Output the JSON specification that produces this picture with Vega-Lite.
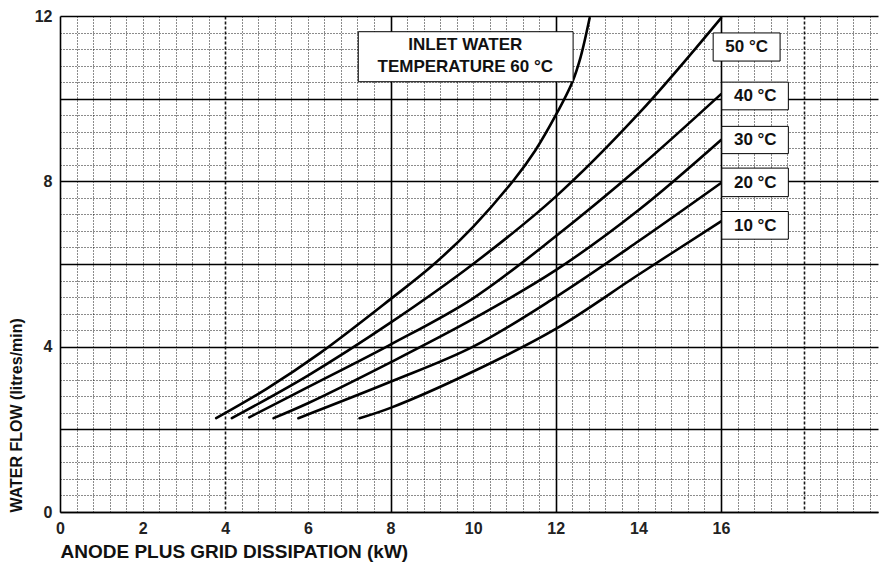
{
  "$schema": "https://vega.github.io/schema/vega-lite/v6.json",
  "width": 818,
  "height": 496,
  "autosize": {"type": "none"},
  "padding": {"left": 60, "top": 16, "right": 3, "bottom": 57},
  "background": "white",
  "config": {"font": "Liberation Sans", "view": {"stroke": null}},
  "datasets": {
    "curves": [
      {"series": "60", "x": 3.78, "y": 2.27}, {"series": "60", "x": 5, "y": 2.98}, {"series": "60", "x": 6.3, "y": 3.85}, {"series": "60", "x": 8, "y": 5.15}, {"series": "60", "x": 9, "y": 5.95}, {"series": "60", "x": 10, "y": 6.9}, {"series": "60", "x": 11, "y": 8.05}, {"series": "60", "x": 11.5, "y": 8.74}, {"series": "60", "x": 12, "y": 9.6}, {"series": "60", "x": 12.4, "y": 10.4}, {"series": "60", "x": 12.6, "y": 11.0}, {"series": "60", "x": 12.82, "y": 11.95},
      {"series": "50", "x": 4.16, "y": 2.27}, {"series": "50", "x": 6, "y": 3.3}, {"series": "50", "x": 8, "y": 4.58}, {"series": "50", "x": 10, "y": 6.0}, {"series": "50", "x": 12, "y": 7.63}, {"series": "50", "x": 14, "y": 9.63}, {"series": "50", "x": 16, "y": 11.95},
      {"series": "40", "x": 4.58, "y": 2.29}, {"series": "40", "x": 6, "y": 3.02}, {"series": "40", "x": 8, "y": 4.05}, {"series": "40", "x": 10, "y": 5.17}, {"series": "40", "x": 12, "y": 6.67}, {"series": "40", "x": 14, "y": 8.32}, {"series": "40", "x": 16, "y": 10.11},
      {"series": "30", "x": 5.17, "y": 2.27}, {"series": "30", "x": 6, "y": 2.63}, {"series": "30", "x": 8, "y": 3.62}, {"series": "30", "x": 10, "y": 4.67}, {"series": "30", "x": 12, "y": 5.85}, {"series": "30", "x": 14, "y": 7.3}, {"series": "30", "x": 16, "y": 9.0},
      {"series": "20", "x": 5.77, "y": 2.27}, {"series": "20", "x": 8, "y": 3.15}, {"series": "20", "x": 10, "y": 4.0}, {"series": "20", "x": 12, "y": 5.2}, {"series": "20", "x": 14, "y": 6.55}, {"series": "20", "x": 16, "y": 7.96},
      {"series": "10", "x": 7.25, "y": 2.27}, {"series": "10", "x": 8, "y": 2.52}, {"series": "10", "x": 10, "y": 3.4}, {"series": "10", "x": 12, "y": 4.43}, {"series": "10", "x": 14, "y": 5.74}, {"series": "10", "x": 16, "y": 7.03}
    ],
    "boxes": [
      {"x1": 7.22, "x2": 12.42, "y1": 10.41, "y2": 11.62},
      {"x1": 15.81, "x2": 17.43, "y1": 10.91, "y2": 11.59},
      {"x1": 16.02, "x2": 17.63, "y1": 9.73, "y2": 10.4},
      {"x1": 16.02, "x2": 17.63, "y1": 8.67, "y2": 9.33},
      {"x1": 16.02, "x2": 17.63, "y1": 7.63, "y2": 8.32},
      {"x1": 16.02, "x2": 17.63, "y1": 6.6, "y2": 7.27}
    ],
    "labels": [
      {"text": "INLET WATER", "x": 9.81, "y": 11.3},
      {"text": "TEMPERATURE 60 °C", "x": 9.81, "y": 10.77},
      {"text": "50 °C", "x": 16.62, "y": 11.25},
      {"text": "40 °C", "x": 16.83, "y": 10.07},
      {"text": "30 °C", "x": 16.83, "y": 9.0},
      {"text": "20 °C", "x": 16.83, "y": 7.97},
      {"text": "10 °C", "x": 16.83, "y": 6.93}
    ]
  },
  "layer": [
    {
      "data": {"name": "curves"},
      "mark": {"type": "line", "color": "black", "strokeWidth": 2.6, "interpolate": "catmull-rom", "strokeCap": "round"},
      "encoding": {
        "x": {
          "field": "x", "type": "quantitative",
          "scale": {"domain": [0, 19.8], "nice": false, "zero": false},
          "axis": {
            "values": [0,0.4,0.8,1.2,1.6,2,2.4,2.8,3.2,3.6,4,4.4,4.8,5.2,5.6,6,6.4,6.8,7.2,7.6,8,8.4,8.8,9.2,9.6,10,10.4,10.8,11.2,11.6,12,12.4,12.8,13.2,13.6,14,14.4,14.8,15.2,15.6,16,16.4,16.8,17.2,17.6,18,18.4,18.8,19.2,19.6],
            "tickCount": 200,
            "labelExpr": "(datum.value % 2 === 0 && datum.value <= 16) ? ('' + datum.value) : ''",
            "labelOverlap": false,
            "labelFlush": false,
            "labelFontSize": 16,
            "labelFontWeight": "bold",
            "labelColor": "#222",
            "labelPadding": 8,
            "ticks": false,
            "domain": true,
            "domainColor": "#000",
            "domainWidth": 1.5,
            "grid": true,
            "gridColor": "#000",
            "gridDash": {"condition": [{"test": "datum.value===0||datum.value===8||datum.value===12||datum.value===16", "value": []}, {"test": "datum.value===4||datum.value===18", "value": [3, 2]}], "value": [1, 2]},
            "gridWidth": {"condition": {"test": "datum.value===0||datum.value===8||datum.value===12||datum.value===16||datum.value===4||datum.value===18", "value": 1.6}, "value": 1},
            "gridOpacity": {"condition": {"test": "datum.value===0||datum.value===8||datum.value===12||datum.value===16", "value": 1}, "value": 0.9},
            "title": "ANODE PLUS GRID DISSIPATION (kW)",
            "titleAnchor": "start",
            "titleFontSize": 19,
            "titleFontWeight": "bold",
            "titleColor": "#111",
            "titlePadding": 6
          }
        },
        "y": {
          "field": "y", "type": "quantitative",
          "scale": {"domain": [0, 12], "nice": false, "zero": false},
          "axis": {
            "values": [0,0.4,0.8,1.2,1.6,2,2.4,2.8,3.2,3.6,4,4.4,4.8,5.2,5.6,6,6.4,6.8,7.2,7.6,8,8.4,8.8,9.2,9.6,10,10.4,10.8,11.2,11.6,12],
            "tickCount": 200,
            "labelExpr": "datum.value % 4 === 0 ? ('' + datum.value) : ''",
            "labelOverlap": false,
            "labelFlush": false,
            "labelFontSize": 16,
            "labelFontWeight": "bold",
            "labelColor": "#222",
            "labelPadding": 8,
            "ticks": false,
            "domain": false,
            "grid": true,
            "gridColor": "#000",
            "gridDash": {"condition": {"test": "datum.value % 2 === 0", "value": []}, "value": [1, 2]},
            "gridWidth": {"condition": {"test": "datum.value % 2 === 0", "value": 1.6}, "value": 1},
            "gridOpacity": {"condition": {"test": "datum.value % 2 === 0", "value": 1}, "value": 0.9},
            "title": "WATER FLOW (litres/min)",
            "titleAnchor": "start",
            "titleFontSize": 16,
            "titleFontWeight": "bold",
            "titleColor": "#111",
            "titlePadding": 10
          }
        },
        "detail": {"field": "series", "type": "nominal"}
      }
    },
    {
      "data": {"name": "boxes"},
      "mark": {"type": "rect", "fill": "white", "stroke": "black", "strokeWidth": 1},
      "encoding": {
        "x": {"field": "x1", "type": "quantitative"},
        "x2": {"field": "x2"},
        "y": {"field": "y1", "type": "quantitative"},
        "y2": {"field": "y2"}
      }
    },
    {
      "data": {"name": "labels"},
      "mark": {"type": "text", "fontSize": 17, "fontWeight": "bold", "color": "#111", "align": "center", "baseline": "middle"},
      "encoding": {
        "x": {"field": "x", "type": "quantitative"},
        "y": {"field": "y", "type": "quantitative"},
        "text": {"field": "text", "type": "nominal"}
      }
    }
  ]
}
